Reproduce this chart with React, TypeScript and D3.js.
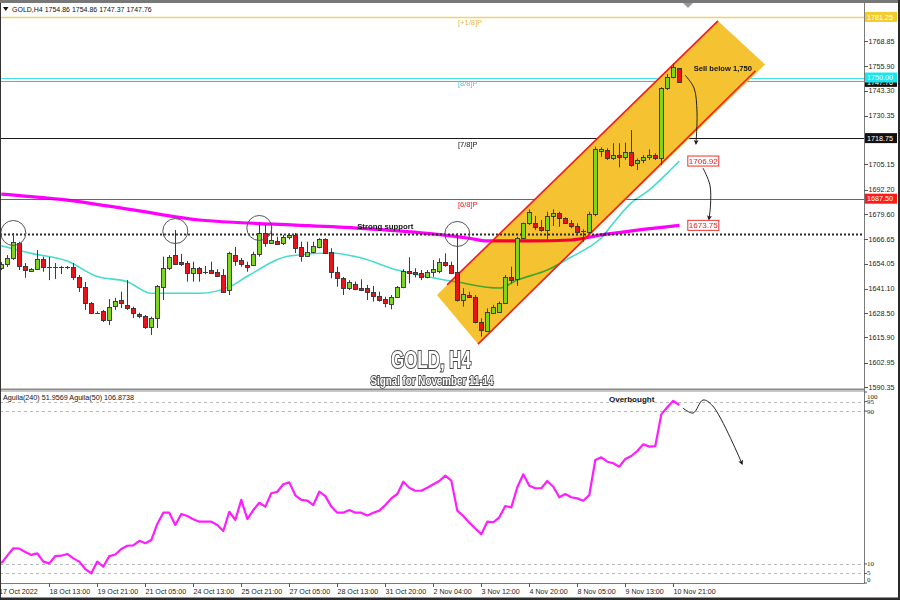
import React from 'react';
import * as d3 from 'd3';

const W = 900;
const H = 600;
const FONT = '"Liberation Sans", Arial, sans-serif';

// ---- candle data (GOLD H4) ----
const candleOpen = [
  1651.7, 1653.8, 1656.7, 1664.8, 1652.8, 1650.2, 1651.2, 1656.4, 1652.0, 1651.9,
  1652.0, 1652.2, 1652.3, 1647.1, 1641.9, 1633.7, 1628.7, 1629.6, 1624.9, 1632.1,
  1635.2, 1632.7, 1631.1, 1628.0, 1626.9, 1621.3, 1625.9, 1642.1, 1651.7, 1658.4,
  1655.0, 1654.3, 1649.3, 1651.7, 1649.9, 1650.7, 1649.8, 1648.1, 1640.4, 1658.7,
  1655.9, 1653.3, 1653.3, 1659.0, 1669.8, 1664.5, 1665.8, 1664.5, 1667.6, 1668.8,
  1662.7, 1658.1, 1659.8, 1662.7, 1666.5, 1660.1, 1649.8, 1646.4, 1641.3, 1643.5,
  1641.3, 1641.3, 1639.5, 1637.3, 1635.7, 1633.2, 1636.9, 1641.8, 1650.3, 1649.8,
  1649.3, 1647.2, 1649.8, 1650.3, 1655.0, 1653.3, 1649.7, 1635.2, 1637.8, 1636.9,
  1624.0, 1619.4, 1628.7, 1629.2, 1633.8, 1647.3, 1645.9, 1667.1, 1674.8, 1674.8,
  1673.0, 1671.3, 1678.6, 1680.3, 1677.4, 1675.1, 1673.4, 1670.5, 1670.5, 1679.6,
  1712.3, 1712.6, 1708.3, 1710.0, 1708.9, 1711.7, 1705.8, 1707.5, 1708.9, 1709.9,
  1708.3, 1744.4, 1750.4, 1754.86,
];
const candleHigh = [
  1654.8, 1658.4, 1669.8, 1665.3, 1654.3, 1651.7, 1661.0, 1657.6, 1657.4, 1654.3,
  1652.8, 1652.8, 1654.3, 1648.1, 1644.5, 1634.2, 1629.4, 1630.1, 1635.7, 1636.3,
  1639.5, 1645.5, 1631.8, 1628.7, 1627.5, 1626.6, 1643.0, 1657.6, 1658.4, 1671.3,
  1659.0, 1655.4, 1655.0, 1652.3, 1652.8, 1655.0, 1651.1, 1651.2, 1660.1, 1662.6,
  1656.9, 1655.0, 1660.1, 1675.1, 1673.9, 1673.0, 1667.9, 1668.8, 1669.6, 1669.8,
  1665.3, 1665.3, 1665.3, 1667.1, 1667.1, 1661.9, 1652.4, 1647.1, 1645.5, 1644.7,
  1645.9, 1643.0, 1642.5, 1639.5, 1636.9, 1637.8, 1642.5, 1651.1, 1657.3, 1651.6,
  1650.7, 1650.7, 1655.9, 1656.7, 1659.3, 1655.0, 1669.6, 1641.3, 1639.5, 1637.8,
  1625.8, 1630.9, 1632.7, 1634.4, 1648.1, 1652.4, 1667.9, 1675.1, 1682.0, 1678.6,
  1676.5, 1680.8, 1682.0, 1680.8, 1677.9, 1676.5, 1674.8, 1671.7, 1680.8, 1714.3,
  1714.0, 1713.5, 1716.1, 1716.1, 1716.4, 1722.9, 1708.3, 1710.0, 1713.0, 1710.9,
  1745.0, 1751.8, 1757.3, 1754.86,
];
const candleLow = [
  1650.7, 1652.3, 1655.9, 1650.7, 1646.7, 1649.7, 1650.7, 1649.8, 1645.5, 1646.1,
  1648.6, 1651.1, 1645.5, 1639.4, 1630.1, 1628.0, 1628.4, 1623.9, 1622.3, 1630.1,
  1631.1, 1630.1, 1625.9, 1625.8, 1620.3, 1617.2, 1620.8, 1635.2, 1650.7, 1653.3,
  1652.8, 1644.7, 1644.7, 1644.7, 1648.5, 1649.3, 1647.2, 1638.8, 1637.8, 1652.8,
  1652.4, 1649.8, 1652.8, 1657.6, 1662.7, 1664.5, 1663.6, 1663.6, 1666.5, 1659.5,
  1655.0, 1657.6, 1659.3, 1661.9, 1659.3, 1646.4, 1642.1, 1637.8, 1640.4, 1640.4,
  1640.0, 1635.2, 1634.4, 1634.4, 1631.5, 1630.4, 1636.3, 1641.3, 1643.8, 1646.9,
  1645.5, 1646.4, 1647.2, 1649.0, 1652.4, 1649.0, 1634.4, 1631.8, 1636.3, 1623.2,
  1616.3, 1618.9, 1628.4, 1628.7, 1633.5, 1643.8, 1642.5, 1666.5, 1673.9, 1671.3,
  1670.5, 1666.5, 1673.4, 1673.0, 1674.4, 1672.2, 1668.8, 1665.3, 1669.6, 1678.5,
  1709.2, 1707.5, 1707.5, 1703.7, 1707.5, 1704.0, 1702.3, 1705.8, 1707.5, 1707.5,
  1704.9, 1743.6, 1749.6, 1747.37,
];
const candleClose = [
  1653.8, 1657.1, 1665.3, 1652.8, 1650.7, 1651.2, 1656.4, 1652.3, 1651.9, 1652.0,
  1651.8, 1652.0, 1647.1, 1641.9, 1633.7, 1628.5, 1628.6, 1624.9, 1631.8, 1634.9,
  1633.8, 1631.1, 1628.5, 1626.9, 1621.5, 1625.9, 1642.5, 1651.7, 1657.6, 1653.8,
  1653.8, 1649.3, 1651.7, 1649.2, 1649.8, 1649.3, 1647.8, 1639.5, 1659.5, 1655.3,
  1653.8, 1652.4, 1659.0, 1669.6, 1664.5, 1666.2, 1664.1, 1667.6, 1668.8, 1661.9,
  1658.1, 1660.1, 1663.2, 1666.5, 1659.6, 1649.8, 1646.4, 1641.3, 1644.7, 1640.9,
  1640.4, 1639.5, 1637.3, 1635.2, 1633.5, 1636.9, 1641.8, 1650.3, 1649.3, 1648.6,
  1646.9, 1649.8, 1651.1, 1655.0, 1653.3, 1649.3, 1635.2, 1638.3, 1636.9, 1624.0,
  1619.8, 1629.2, 1631.8, 1633.8, 1647.3, 1645.5, 1667.1, 1674.8, 1680.8, 1673.0,
  1671.3, 1678.6, 1680.0, 1677.4, 1675.1, 1673.4, 1670.5, 1670.6, 1679.6, 1713.0,
  1713.0, 1708.3, 1710.0, 1708.9, 1711.7, 1704.9, 1707.5, 1708.9, 1710.0, 1708.3,
  1744.4, 1750.4, 1755.3, 1747.76,
];

// fast moving average (cyan), read at candle indices
const fastMaIdx = [0, 5, 11, 16, 21, 25, 33, 38, 41, 48, 55, 60, 66, 73, 76, 83, 86, 91, 95, 98, 100, 102, 105, 108, 111, 113];
const fastMaVal = [1663.2, 1659.3, 1655.3, 1647.3, 1644.7, 1638.7, 1638.7, 1642.0, 1647.5, 1657.9, 1659.5, 1656.9, 1650.7, 1646.1, 1644.5, 1641.4, 1645.5, 1650.7, 1657.4, 1662.6, 1667.2, 1674.9, 1685.3, 1692.0, 1700.7, 1706.92];

// slow moving average (magenta)
const slowMaIdx = [0, 11, 22, 33, 40, 49, 60, 71, 78, 81, 88, 95, 100, 106, 113];
const slowMaVal = [1689.9, 1686.8, 1681.7, 1676.5, 1675.1, 1673.9, 1672.2, 1669.6, 1667.1, 1665.7, 1665.7, 1666.2, 1668.8, 1671.3, 1673.75];

// oscillator (Aguila)
const aguilaVals = [
  10.3, 14.3, 18.2, 18.0, 16.2, 14.7, 15.5, 11.2, 10.3, 14.1,
  14.3, 15.2, 12.9, 11.2, 7.3, 5.1, 11.2, 8.5, 14.1, 14.9,
  17.8, 19.5, 19.7, 22.1, 20.8, 22.5, 30.9, 36.8, 36.8, 30.4,
  36.1, 35.1, 33.4, 32.1, 32.1, 32.1, 30.4, 27.2, 37.3, 33.0,
  43.5, 33.5, 38.2, 42.0, 40.0, 47.0, 47.8, 51.7, 52.7, 45.9,
  43.5, 43.1, 40.8, 47.8, 45.5, 40.0, 36.8, 36.8, 38.2, 36.8,
  36.8, 35.4, 36.8, 37.9, 40.8, 44.3, 46.6, 53.0, 49.9, 48.3,
  48.3, 49.9, 51.7, 53.4, 56.2, 53.6, 37.9, 35.1, 31.6, 28.5,
  25.5, 32.1, 31.8, 34.4, 40.3, 39.6, 50.1, 56.9, 50.9, 49.6,
  49.6, 53.4, 50.4, 44.9, 46.6, 44.9, 44.3, 43.1, 46.1, 64.4,
  65.8, 63.5, 62.7, 60.9, 64.9, 66.5, 69.1, 72.6, 71.4, 71.7,
  88.3, 92.0, 95.4, 93.2,
];

const timeLabels = [
  '17 Oct 2022', '18 Oct 13:00', '19 Oct 21:00', '21 Oct 05:00', '24 Oct 13:00',
  '25 Oct 21:00', '27 Oct 05:00', '28 Oct 13:00', '31 Oct 20:00', '2 Nov 04:00',
  '3 Nov 12:00', '4 Nov 20:00', '8 Nov 05:00', '9 Nov 13:00', '10 Nov 21:00',
];
const timeLabelIdx = [0, 8, 16, 24, 32, 40, 48, 56, 64, 72, 80, 88, 96, 104, 112];

const priceTicks = [1768.85, 1755.90, 1743.30, 1730.35, 1705.15, 1692.20, 1679.60, 1666.65, 1654.05, 1641.10, 1628.50, 1615.90, 1602.95, 1590.35];

const levelPrices = [1781.25, 1750.0, 1718.75, 1687.5];
const levelNames = ['[+1/8]P', '[8/8]P', '[7/8]P', '[6/8]P'];
const levelColors = ['#f3d265', '#44e3e6', '#1a1a1a', '#ff2626'];
const levelTextColors = ['#e8b84a', '#4cc6d6', '#1a1a1a', '#f02020'];
const levelBoxColors = ['#f2cc2e', '#18e6ee', '#111111', '#ff1a1a'];

const supportPrice = 1669.0;
const lastPrice = 1747.76;

const circleIdx = [2, 29, 43, 76];
const circlePrice = [1669.8, 1670.8, 1672.4, 1669.3];

const oscLevels = [95, 90, 10, 5];

// channel (candle index, price)
const channelI = [72.6, 119.45, 127.3, 79.45];
const channelP = [1637.8, 1779.2, 1756.7, 1612.5];

export default function App() {
  const n = candleOpen.length;
  const x = d3.scaleLinear().domain([0, 113]).range([1.3, 679.3]);
  const y = d3.scaleLinear().domain([1590.35, 1768.85]).range([387, 41]);
  const yi = d3.scaleLinear().domain([0, 100]).range([583, 392]);

  const fastPath = d3
    .line<number>()
    .x((d) => x(fastMaIdx[d]))
    .y((d) => y(fastMaVal[d]))
    .curve(d3.curveMonotoneX)(fastMaIdx.map((_, k) => k)) as string;
  const slowPath = d3
    .line<number>()
    .x((d) => x(slowMaIdx[d]))
    .y((d) => y(slowMaVal[d]))
    .curve(d3.curveMonotoneX)(slowMaIdx.map((_, k) => k)) as string;
  const oscPath = d3
    .line<number>()
    .x((_, k) => x(k))
    .y((d) => yi(d))(aguilaVals) as string;

  const chanPts = channelI.map((ci, k) => [x(ci), y(channelP[k])] as [number, number]);
  const chanPath = 'M' + chanPts.map((p) => p.join(',')).join('L') + 'Z';
  const topStart: [number, number] = [x(74.3), y(1643.0)];
  const topEnd = chanPts[1];
  const botStart = chanPts[3];
  const botEnd: [number, number] = [x(125.7), y(1753.5)];

  const curve = d3.line<[number, number]>().curve(d3.curveCatmullRom.alpha(0.5));
  const arrow1 = curve([
    [x(113.95), y(1751.3)],
    [x(115.45), y(1744.6)],
    [x(115.95), y(1732.2)],
    [x(115.78), y(1716.0)],
  ]) as string;
  const arrow2 = curve([
    [x(116.95), y(1703.3)],
    [x(118.1), y(1694.6)],
    [x(118.2), y(1684.2)],
    [x(117.95), y(1677.0)],
  ]) as string;
  const arrow3 = curve([
    [x(113.6), yi(91.6)],
    [x(115.3), yi(89.0)],
    [x(116.95), yi(95.8)],
    [x(118.6), yi(92.6)],
    [x(123.45), yi(62.5)],
  ]) as string;

  const bodyW = 4;

  return (
    <div style={{ position: 'fixed', left: 0, top: 0, width: W, height: H }}>
      <svg width={W} height={H} style={{ display: 'block', fontFamily: FONT }}>
        <defs>
          <clipPath id="mainClip">
            <rect x={0} y={3} width={864} height={386} />
          </clipPath>
          <clipPath id="oscClip">
            <rect x={0} y={392} width={864} height={191} />
          </clipPath>
          <marker id="ah" viewBox="0 0 10 10" refX={7} refY={5} markerWidth={5} markerHeight={6} orient="auto">
            <path d="M0,0 L10,5 L0,10 L2.5,5 z" fill="#1a1a1a" />
          </marker>
        </defs>
        <rect x={0} y={0} width={W} height={H} fill="#ffffff" />

        {/* ---------- main panel ---------- */}
        <g clipPath="url(#mainClip)">
          {levelPrices.map((p, k) => (
            <line key={'lv' + k} x1={0} x2={864} y1={Math.round(y(p)) + 0.5} y2={Math.round(y(p)) + 0.5}
              stroke={levelColors[k]} strokeWidth={k === 0 ? 1.6 : 1.1} />
          ))}
          <line x1={0} x2={864} y1={Math.round(y(lastPrice)) - 0.5} y2={Math.round(y(lastPrice)) - 0.5} stroke="#8a9aae" strokeWidth={1} />
          {levelPrices.map((p, k) => (
            <text key={'lt' + k} x={458} y={y(p) + 8.5} fontSize={7.5} fill={levelTextColors[k]}>
              {levelNames[k]}
            </text>
          ))}

          <path d={chanPath} fill="#f5c232" />

          <path d={fastPath} fill="none" stroke="#45dccc" strokeWidth={1.6} style={{ mixBlendMode: 'multiply' }} />
          <path d={slowPath} fill="none" stroke="#ff00ff" strokeWidth={3.2} style={{ mixBlendMode: 'multiply' }} />

          <line x1={0} x2={864} y1={y(supportPrice)} y2={y(supportPrice)} stroke="#2a2a2a" strokeWidth={2} strokeDasharray="2 2" />

          <line x1={topStart[0]} y1={topStart[1]} x2={topEnd[0]} y2={topEnd[1]} stroke="#f21c1c" strokeWidth={1.6} />
          <line x1={botStart[0]} y1={botStart[1]} x2={botEnd[0]} y2={botEnd[1]} stroke="#f21c1c" strokeWidth={1.6} />

          {d3.range(n).map((i) => {
            const cx = Math.round(x(i)) + 0.5;
            const o = candleOpen[i];
            const c = candleClose[i];
            const up = c >= o;
            const top = Math.round(y(Math.max(o, c)));
            const bot = Math.round(y(Math.min(o, c)));
            const h = Math.max(bot - top, 1);
            return (
              <g key={'c' + i}>
                <line x1={cx} x2={cx} y1={y(candleHigh[i])} y2={y(candleLow[i])} stroke="#3c3c3c" strokeWidth={1} />
                {h <= 1.5 ? (
                  <line x1={cx - 2.5} x2={cx + 2.5} y1={top + 0.5} y2={top + 0.5} stroke="#3c3c3c" strokeWidth={1} />
                ) : (
                  <rect x={cx - bodyW / 2} y={top + 0.5} width={bodyW} height={h}
                    fill={up ? '#7fd51f' : '#e8141a'} stroke="#333" strokeWidth={0.9} />
                )}
              </g>
            );
          })}

          {circleIdx.map((ci, k) => (
            <circle key={'ci' + k} cx={x(ci)} cy={y(circlePrice[k])} r={12.5} fill="none" stroke="#555" strokeWidth={1} />
          ))}

          <text x={x(64)} y={y(1673.4) + 3} fontSize={7.8} fontWeight="bold" fill="#111" textAnchor="middle">
            Strong support
          </text>

          <text x={x(115.4)} y={y(1750.4) - 6} fontSize={7.6} fontWeight="bold" fill="#111">
            Sell below 1,750
          </text>
          <path d={arrow1} fill="none" stroke="#222" strokeWidth={1} markerEnd="url(#ah)" />
          <path d={arrow2} fill="none" stroke="#222" strokeWidth={1} markerEnd="url(#ah)" />

          {[fastMaVal[fastMaVal.length - 1], slowMaVal[slowMaVal.length - 1]].map((v, k) => (
            <g key={'tag' + k}>
              <rect x={x(113) + 8.5} y={y(v) - 5} width={31} height={10} fill="#fff" stroke="#f03030" strokeWidth={1} />
              <text x={x(113) + 24} y={y(v) + 3} fontSize={8} fill="#e02020" textAnchor="middle">
                {v.toFixed(2)}
              </text>
            </g>
          ))}

          <text x={431} y={368} fontSize={24} fontWeight="bold" fill="#fff" stroke="#4a4a4a" strokeWidth={2.2}
            paintOrder="stroke" textAnchor="middle" textLength={80} lengthAdjust="spacingAndGlyphs">
            GOLD, H4
          </text>
          <text x={432} y={385} fontSize={12} fontWeight="bold" fill="#fff" stroke="#4a4a4a" strokeWidth={1.8}
            paintOrder="stroke" textAnchor="middle" textLength={123} lengthAdjust="spacingAndGlyphs">
            Signal for November 11-14
          </text>
        </g>

        {/* header */}
        <path d="M3,7 L8.5,7 L5.75,11 Z" fill="#111" />
        <text x={12} y={12} fontSize={7} fill="#111">
          GOLD,H4  1754.86 1754.86 1747.37 1747.76
        </text>

        {/* ---------- oscillator panel ---------- */}
        <g clipPath="url(#oscClip)">
          {oscLevels.map((v) => (
            <line key={'ol' + v} x1={0} x2={864} y1={Math.round(yi(v)) + 0.5} y2={Math.round(yi(v)) + 0.5}
              stroke="#b8b8b8" strokeWidth={1} strokeDasharray="3 3" />
          ))}
          <path d={oscPath} fill="none" stroke="#ff1cff" strokeWidth={2.2} strokeLinejoin="round" />
          <text x={3} y={400} fontSize={7.2} fill="#111">
            Aguila(240) 51.9569  Aguila(50) 106.8738
          </text>
          <text x={609} y={402} fontSize={8} fontWeight="bold" fill="#111">
            Overbought
          </text>
          <path d={arrow3} fill="none" stroke="#222" strokeWidth={1} markerEnd="url(#ah)" />
        </g>

        {/* ---------- frames ---------- */}
        <rect x={0} y={0} width={W} height={3} fill="#777" />
        <polygon points="683,3 693,3 688,8" fill="#9a9a9a" />
        <line x1={864.5} x2={864.5} y1={3} y2={583} stroke="#7a7a7a" strokeWidth={1} />
        <line x1={0} x2={864} y1={389.5} y2={389.5} stroke="#8a8a8a" strokeWidth={2} />
        <line x1={0} x2={864} y1={391.5} y2={391.5} stroke="#c8c8c8" strokeWidth={1} />
        <line x1={0} x2={864.5} y1={583.5} y2={583.5} stroke="#7a7a7a" strokeWidth={1} />
        <rect x={0} y={3} width={1} height={595} fill="#333" />
        <rect x={898} y={0} width={2} height={H} fill="#2a2a2a" />
        <rect x={0} y={597.5} width={W} height={2.5} fill="#2a2a2a" />

        {/* price axis */}
        {priceTicks.map((p) => (
          <g key={'pt' + p}>
            <line x1={864} x2={868} y1={Math.round(y(p)) + 0.5} y2={Math.round(y(p)) + 0.5} stroke="#555" />
            <text x={868.5} y={y(p) + 2.6} fontSize={7.2} fill="#222">
              {p.toFixed(2)}
            </text>
          </g>
        ))}
        {[lastPrice].map((p) => (
          <g key="lastbox">
            <rect x={865} y={y(p) - 5} width={32} height={10} fill="#111" />
            <text x={867} y={y(p) + 2.8} fontSize={7.2} fill="#fff">{p.toFixed(2)}</text>
          </g>
        ))}
        {levelPrices.map((p, k) => (
          <g key={'lb' + k}>
            <rect x={865} y={y(p) - 5} width={32} height={10} fill={levelBoxColors[k]} />
            <text x={867} y={y(p) + 2.8} fontSize={7.2} fill="#fff">{p.toFixed(2)}</text>
          </g>
        ))}

        {/* oscillator axis */}
        {[100, 95, 90, 10, 5, 0].map((v) => {
          const yy = v === 100 ? yi(v) + 4 : v === 0 ? yi(v) - 3.5 : v === 5 ? yi(v) - 1 : yi(v);
          return (
            <g key={'oa' + v}>
              <line x1={864} x2={867} y1={yi(v)} y2={yi(v)} stroke="#555" />
              <text x={867} y={yy + 2.5} fontSize={7} fill="#222" fontFamily='"Liberation Serif", serif'>
                {v}
              </text>
            </g>
          );
        })}

        {/* time axis */}
        {timeLabelIdx.map((ti, k) => {
          const tx = Math.round(x(ti)) + 0.5;
          return (
            <g key={'ta' + k}>
              {k > 0 && <line x1={tx} x2={tx} y1={583} y2={587} stroke="#555" />}
              <text x={k === 0 ? -1 : tx} y={594} fontSize={7.1} fill="#222">
                {timeLabels[k]}
              </text>
            </g>
          );
        })}
      </svg>
    </div>
  );
}
